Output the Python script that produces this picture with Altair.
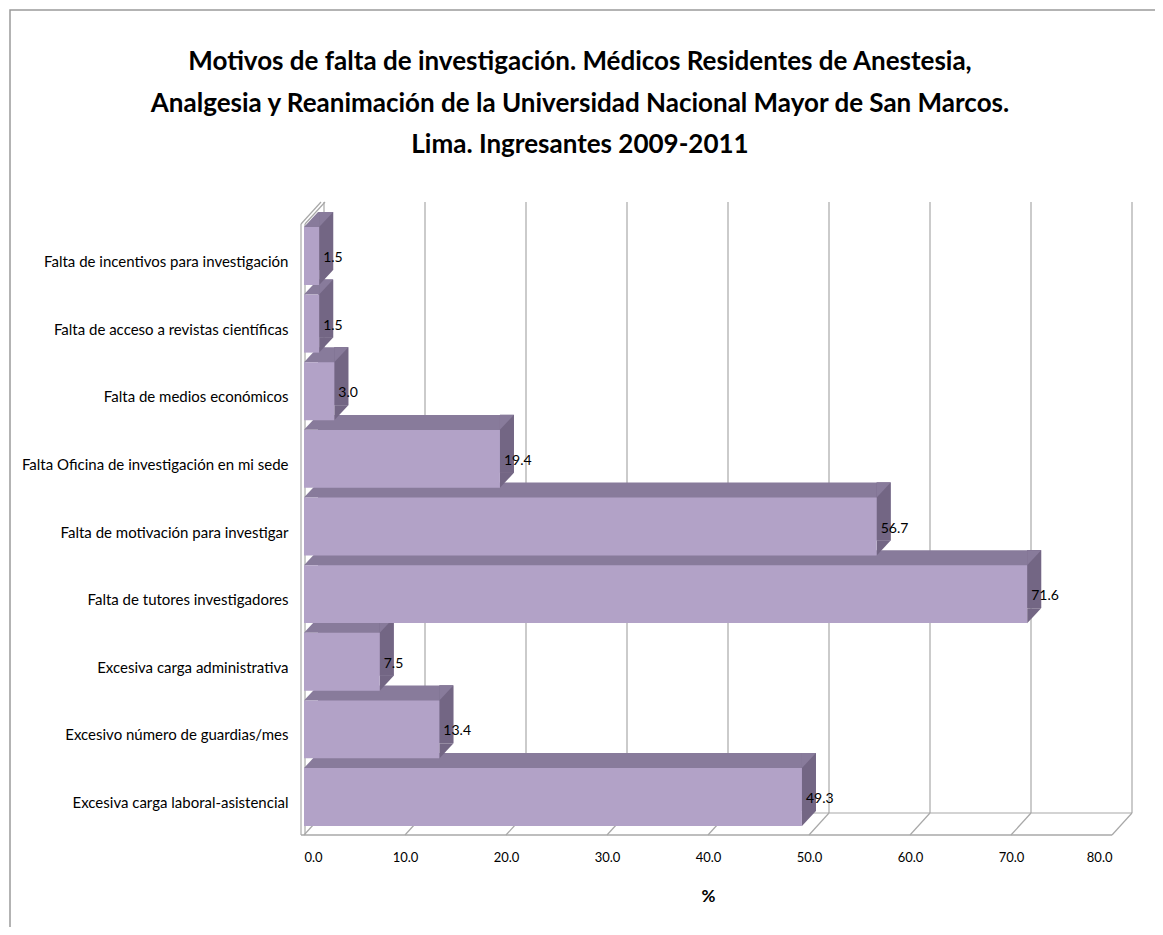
import altair as alt
import pandas as pd

categories = [
    "Falta de incentivos para investigación",
    "Falta de acceso a revistas científicas",
    "Falta de medios económicos",
    "Falta Oficina de investigación en mi sede",
    "Falta de motivación para investigar",
    "Falta de tutores investigadores",
    "Excesiva carga administrativa",
    "Excesivo número de guardias/mes",
    "Excesiva carga laboral-asistencial",
]
values = [1.5, 1.5, 3.0, 19.4, 56.7, 71.6, 7.5, 13.4, 49.3]
tick_values = [0, 10, 20, 30, 40, 50, 60, 70, 80]

title_lines = [
    "Motivos de falta de investigación. Médicos Residentes de Anestesia,",
    "Analgesia y Reanimación de la Universidad Nacional Mayor de San Marcos.",
    "Lima. Ingresantes 2009-2011",
]

# geometry / style
W, H = 808, 633
DX, DY = 20, -22          # wall depth
BDX, BDY = 14, -15        # bar depth
BAND = 58
FRONT, TOP, SIDE = "#b2a2c7", "#887b9b", "#736684"
GRID = "#a8a8a8"
FONT = "Lato"

df = pd.DataFrame({"c": categories, "v": values})
df["lab"] = [f"{v:.1f}" for v in values]
tdf = pd.DataFrame({"t": tick_values})
one = pd.DataFrame({"k": [0]})

xs = alt.Scale(domain=[0, 80], nice=False, zero=True)
ys = alt.Scale(domain=categories, range=[25, 624], paddingInner=0.1424, paddingOuter=0)

x_axis = alt.Axis(values=tick_values, format=".1f", grid=False, domain=False, ticks=False,
                  labelPadding=16, labelFontSize=13, labelFont=FONT, labelColor="#000",
                  title="%", titleFont=FONT, titleFontSize=17, titleFontWeight="bold",
                  titleColor="#000", titlePadding=24)
y_axis = alt.Axis(grid=False, domain=False, ticks=False, labelPadding=16, labelFontSize=15,
                  labelFont=FONT, labelColor="#000", labelOffset=6, title=None, labelLimit=400)


def X(field, **kw):
    return alt.X(field, type="quantitative", scale=xs, axis=x_axis, **kw)


def Y(field):
    return alt.Y(field, type="nominal", scale=ys, axis=y_axis, sort=categories)


base = alt.Chart(df)
tbase = alt.Chart(tdf)
obase = alt.Chart(one)

# back wall grid lines
grid = tbase.mark_rule(color=GRID, strokeWidth=1.2, xOffset=DX).encode(
    x=X("t"), y=alt.value(0), y2=alt.value(H + DY))
# floor slanted lines
floor_ticks = tbase.mark_rule(color=GRID, strokeWidth=1.2, x2Offset=DX).encode(
    x=X("t"), x2=alt.X2("t"), y=alt.value(H), y2=alt.value(H + DY))
floor_front = obase.mark_rule(color=GRID, strokeWidth=1.5).encode(
    x=alt.value(-3), x2=alt.value(W), y=alt.value(H))
floor_back = obase.mark_rule(color=GRID, strokeWidth=1.2, xOffset=DX, x2Offset=DX).encode(
    x=alt.datum(0, scale=xs), x2=alt.datum(80), y=alt.value(H + DY))
# left wall (thin slab)
wall1 = obase.mark_rule(color=GRID, strokeWidth=1.2).encode(
    x=alt.value(-3), y=alt.value(-DY), y2=alt.value(H))
wall2 = obase.mark_rule(color=GRID, strokeWidth=1.2).encode(
    x=alt.value(1), y=alt.value(-DY), y2=alt.value(H))
wall3 = obase.mark_rule(color=GRID, strokeWidth=1.2).encode(
    x=alt.value(-3), x2=alt.value(-3 + DX), y=alt.value(-DY), y2=alt.value(0))
wall4 = obase.mark_rule(color=GRID, strokeWidth=1.2).encode(
    x=alt.value(1), x2=alt.value(1 + DX), y=alt.value(-DY), y2=alt.value(0))

# 3D bars
back_face = base.mark_bar(color=TOP, xOffset=BDX, x2Offset=BDX, yOffset=BDY).encode(
    x=X("v"), y=Y("c"))
side_face = base.mark_bar(color=SIDE, x2Offset=BDX, yOffset=BDY).encode(
    x=X("v"), x2=alt.X2("v"), y=Y("c"))
s = abs(BDY)
r = BDX / s
size = (2 * s) ** 2
tri_tl = f"M0,0 L{r:.4f},-1 L{r:.4f},0 Z"
tri_r = f"M0,0 L0,-1 L{r:.4f},-1 Z"
corner_tl = base.mark_point(shape=tri_tl, size=size, filled=True, opacity=1, color=TOP,
                            strokeWidth=0.6, yOffset=-BAND / 2).encode(
    x=alt.datum(0, scale=xs), y=Y("c"))
corner_tr = base.mark_point(shape=tri_r, size=size, filled=True, opacity=1, color=TOP,
                            strokeWidth=0.6, yOffset=-BAND / 2).encode(
    x=X("v"), y=Y("c"))
corner_br = base.mark_point(shape=tri_r, size=size, filled=True, opacity=1, color=SIDE,
                            strokeWidth=0.6, yOffset=BAND / 2).encode(
    x=X("v"), y=Y("c"))
front_face = base.mark_bar(color=FRONT).encode(x=X("v"), y=Y("c"))
labels = base.mark_text(align="left", baseline="middle", dx=4, dy=2, fontSize=14,
                        font=FONT, color="#000").encode(x=X("v"), y=Y("c"), text="lab:N")

# chart title drawn as text (group bounds include the page frame)
title = obase.mark_text(align="center", baseline="alphabetic", fontSize=26, fontWeight="bold",
                        font=FONT, color="#000", lineHeight=41.5).encode(
    x=alt.value(276), y=alt.value(-132), text=alt.value(title_lines))

border = obase.mark_rect(fill=None, stroke="#9a9a9a", strokeWidth=1.5).encode(
    x=alt.value(-294), x2=alt.value(1300), y=alt.value(-192), y2=alt.value(1300))

chart = alt.layer(
    border, title, grid, floor_ticks, floor_back, floor_front, wall1, wall2, wall3, wall4,
    back_face, side_face, corner_tl, corner_tr, corner_br, front_face, labels,
).properties(
    width=W, height=H,
    autosize=alt.AutoSizeParams(type="none"),
    padding={"left": 296, "top": 194, "right": 43, "bottom": 92},
).configure_view(stroke=None)

chart.save("out.html", embed_options={"renderer": "svg", "actions": False})
